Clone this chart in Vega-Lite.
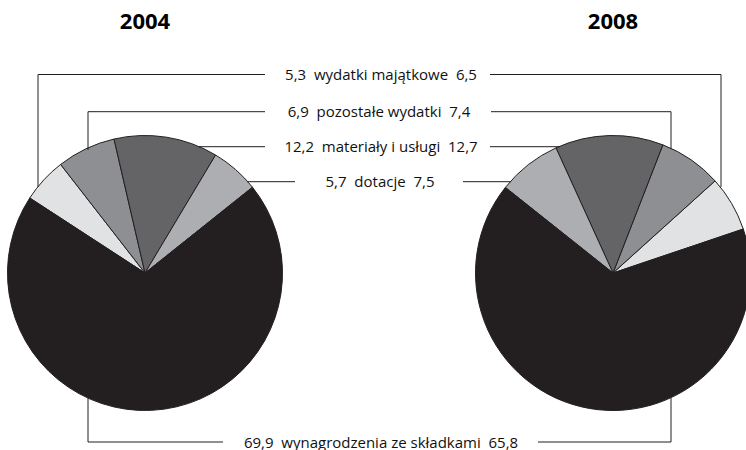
{
  "$schema": "https://vega.github.io/schema/vega-lite/v6.json",
  "width": 746,
  "height": 450,
  "autosize": {"type": "none"},
  "padding": 0,
  "background": "white",
  "config": {"view": {"stroke": null}},
  "datasets": {
    "slices": [
      {"year": "2004", "cat": "wydatki majątkowe", "value": 5.3},
      {"year": "2004", "cat": "pozostałe wydatki", "value": 6.9},
      {"year": "2004", "cat": "materiały i usługi", "value": 12.2},
      {"year": "2004", "cat": "dotacje", "value": 5.7},
      {"year": "2004", "cat": "wynagrodzenia ze składkami", "value": 69.9},
      {"year": "2008", "cat": "wydatki majątkowe", "value": 6.5},
      {"year": "2008", "cat": "pozostałe wydatki", "value": 7.4},
      {"year": "2008", "cat": "materiały i usługi", "value": 12.7},
      {"year": "2008", "cat": "dotacje", "value": 7.5},
      {"year": "2008", "cat": "wynagrodzenia ze składkami", "value": 65.8}
    ],
    "labelpos": [
      {"cat": "wydatki majątkowe", "lx": 381, "ly": 74.5},
      {"cat": "pozostałe wydatki", "lx": 379, "ly": 111.7},
      {"cat": "materiały i usługi", "lx": 381, "ly": 146.7},
      {"cat": "dotacje", "lx": 380, "ly": 181.7},
      {"cat": "wynagrodzenia ze składkami", "lx": 381, "ly": 442}
    ],
    "leaders": [
      {"cat": "wydatki majątkowe", "year": "2004", "i": 0, "x": 265, "y": 74.5},
      {"cat": "wydatki majątkowe", "year": "2004", "i": 1, "x": 38, "y": 74.5},
      {"cat": "wydatki majątkowe", "year": "2004", "i": 2, "x": 38, "y": 187},
      {"cat": "pozostałe wydatki", "year": "2004", "i": 0, "x": 265, "y": 111.7},
      {"cat": "pozostałe wydatki", "year": "2004", "i": 1, "x": 88, "y": 111.7},
      {"cat": "pozostałe wydatki", "year": "2004", "i": 2, "x": 88, "y": 150},
      {"cat": "materiały i usługi", "year": "2004", "i": 0, "x": 265, "y": 146.7},
      {"cat": "materiały i usługi", "year": "2004", "i": 1, "x": 198, "y": 146.7},
      {"cat": "dotacje", "year": "2004", "i": 0, "x": 295, "y": 181.7},
      {"cat": "dotacje", "year": "2004", "i": 1, "x": 247, "y": 181.7},
      {"cat": "wynagrodzenia ze składkami", "year": "2004", "i": 0, "x": 223, "y": 442},
      {"cat": "wynagrodzenia ze składkami", "year": "2004", "i": 1, "x": 88, "y": 442},
      {"cat": "wynagrodzenia ze składkami", "year": "2004", "i": 2, "x": 88, "y": 398},
      {"cat": "wydatki majątkowe", "year": "2008", "i": 0, "x": 490, "y": 74.5},
      {"cat": "wydatki majątkowe", "year": "2008", "i": 1, "x": 721, "y": 74.5},
      {"cat": "wydatki majątkowe", "year": "2008", "i": 2, "x": 721, "y": 187},
      {"cat": "pozostałe wydatki", "year": "2008", "i": 0, "x": 491, "y": 111.7},
      {"cat": "pozostałe wydatki", "year": "2008", "i": 1, "x": 671, "y": 111.7},
      {"cat": "pozostałe wydatki", "year": "2008", "i": 2, "x": 671, "y": 149},
      {"cat": "materiały i usługi", "year": "2008", "i": 0, "x": 490, "y": 146.7},
      {"cat": "materiały i usługi", "year": "2008", "i": 1, "x": 560, "y": 146.7},
      {"cat": "dotacje", "year": "2008", "i": 0, "x": 463, "y": 181.7},
      {"cat": "dotacje", "year": "2008", "i": 1, "x": 511, "y": 181.7},
      {"cat": "wynagrodzenia ze składkami", "year": "2008", "i": 0, "x": 538, "y": 442},
      {"cat": "wynagrodzenia ze składkami", "year": "2008", "i": 1, "x": 671, "y": 442},
      {"cat": "wynagrodzenia ze składkami", "year": "2008", "i": 2, "x": 671, "y": 398}
    ]
  },
  "layer": [
    {
      "layer": [
        {
          "data": {"name": "slices"},
          "transform": [
            {"filter": "datum.year == '2004'"},
            {"calculate": "indexof(['materiały i usługi','pozostałe wydatki','wydatki majątkowe','wynagrodzenia ze składkami','dotacje'], datum.cat)", "as": "ord"}
          ],
          "mark": {"type": "arc", "outerRadius": 137.5, "stroke": "#231f20", "strokeWidth": 1},
          "encoding": {
            "theta": {"field": "value", "type": "quantitative", "stack": true, "scale": {"range": [0.5393, -5.7439]}},
            "order": {"field": "ord", "type": "quantitative", "sort": "ascending"},
            "color": {"field": "cat", "type": "nominal", "legend": null,
              "scale": {"domain": ["materiały i usługi", "pozostałe wydatki", "wydatki majątkowe", "wynagrodzenia ze składkami", "dotacje"],
                        "range": ["#646466", "#8e8f92", "#e1e2e4", "#231f20", "#adaeb1"]}},
            "x": {"field": "year", "type": "nominal", "scale": {"type": "point", "domain": ["2004", "2008"], "range": [145, 613], "padding": 0}, "axis": null},
            "y": {"datum": "pie", "type": "nominal", "scale": {"type": "point", "domain": ["title", "pie"], "range": [29, 273], "padding": 0}, "axis": null}
          }
        },
        {
          "data": {"name": "slices"},
          "transform": [
            {"filter": "datum.year == '2008'"},
            {"calculate": "indexof(['materiały i usługi','pozostałe wydatki','wydatki majątkowe','wynagrodzenia ze składkami','dotacje'], datum.cat)", "as": "ord"}
          ],
          "mark": {"type": "arc", "outerRadius": 137.5, "stroke": "#231f20", "strokeWidth": 1},
          "encoding": {
            "theta": {"field": "value", "type": "quantitative", "stack": true, "scale": {"range": [-0.4276, 5.8556]}},
            "order": {"field": "ord", "type": "quantitative", "sort": "ascending"},
            "color": {"field": "cat", "type": "nominal", "legend": null},
            "x": {"field": "year", "type": "nominal", "axis": null},
            "y": {"datum": "pie", "type": "nominal", "axis": null}
          }
        },
        {
          "data": {"name": "slices"},
          "transform": [{"aggregate": [{"op": "count", "as": "n"}], "groupby": ["year"]}],
          "mark": {"type": "text", "font": "Open Sans", "fontSize": 22, "fontWeight": "bold", "align": "center", "baseline": "alphabetic", "color": "#000000"},
          "encoding": {
            "x": {"field": "year", "type": "nominal", "axis": null},
            "y": {"datum": "title", "type": "nominal", "axis": null},
            "text": {"field": "year"}
          }
        }
      ],
      "resolve": {"scale": {"theta": "independent"}}
    },
    {
      "layer": [
        {
          "data": {"name": "leaders"},
          "mark": {"type": "line", "stroke": "#231f20", "strokeWidth": 1},
          "encoding": {
            "x": {"field": "x", "type": "quantitative", "scale": {"domain": [0, 746], "nice": false, "zero": false}, "axis": null},
            "y": {"field": "y", "type": "quantitative", "scale": {"domain": [0, 450], "reverse": true, "nice": false, "zero": false}, "axis": null},
            "detail": [{"field": "cat"}, {"field": "year"}],
            "order": {"field": "i", "type": "quantitative"}
          }
        },
        {
          "data": {"name": "slices"},
          "transform": [
            {"pivot": "year", "value": "value", "groupby": ["cat"]},
            {"lookup": "cat", "from": {"data": {"name": "labelpos"}, "key": "cat", "fields": ["lx", "ly"]}},
            {"calculate": "replace(format(datum['2004'], '.1f'), '.', ',') + '\u00a0\u00a0' + datum.cat + '\u00a0\u00a0' + replace(format(datum['2008'], '.1f'), '.', ',')", "as": "label"}
          ],
          "mark": {"type": "text", "font": "Open Sans", "fontSize": 15, "align": "center", "baseline": "alphabetic", "dy": 5.5, "color": "#111111"},
          "encoding": {
            "x": {"field": "lx", "type": "quantitative", "scale": {"domain": [0, 746], "nice": false, "zero": false}, "axis": null},
            "y": {"field": "ly", "type": "quantitative", "scale": {"domain": [0, 450], "reverse": true, "nice": false, "zero": false}, "axis": null},
            "text": {"field": "label"}
          }
        }
      ]
    }
  ],
  "resolve": {"scale": {"x": "independent", "y": "independent"}}
}
